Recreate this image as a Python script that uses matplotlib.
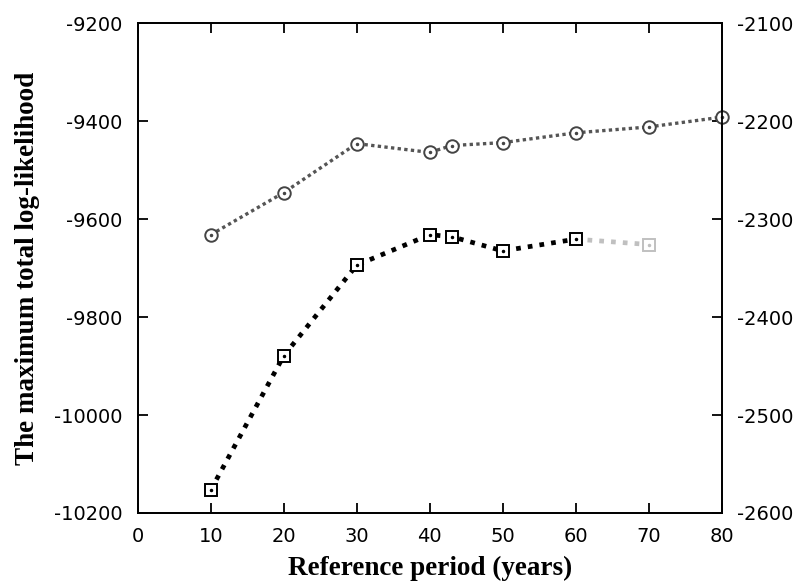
import matplotlib.pyplot as plt

plt.rcParams['axes.unicode_minus'] = False

years = [10, 20, 30, 40, 43, 50, 60, 70, 80]
loglik_right = [-2316, -2273, -2223, -2232, -2225, -2222, -2212, -2206, -2196]

years_sq = [10, 20, 30, 40, 43, 50, 60, 70]
loglik_left = [-10153, -9879, -9694, -9632, -9636, -9665, -9641, -9652]

xticks = [0, 10, 20, 30, 40, 50, 60, 70, 80]
left_ticks = [-10200, -10000, -9800, -9600, -9400, -9200]
right_ticks = [-2600, -2500, -2400, -2300, -2200, -2100]

fig = plt.figure(figsize=(8.01, 5.86), dpi=100)
ax = fig.add_axes([0.172, 0.1246, 0.729, 0.836])
ax2 = ax.twinx()

# squares on the left axis: black up to 60, light grey 60-70
ax.plot(years_sq[:7], loglik_left[:7], color='black', lw=3.4,
        dashes=(1.0, 1.5), dash_capstyle='butt', zorder=2)
ax.plot(years_sq[6:], loglik_left[6:], color='#c0c0c0', lw=3.4,
        dashes=(1.0, 1.5), dash_capstyle='butt', zorder=1)
ax.plot(years_sq[:7], loglik_left[:7], ls='none', marker='s', ms=8.5,
        mfc='white', mec='black', mew=1.4, zorder=3)
ax.plot(years_sq[7:], loglik_left[7:], ls='none', marker='s', ms=8.5,
        mfc='white', mec='#c0c0c0', mew=1.4, zorder=3)
ax.plot(years_sq[:7], loglik_left[:7], ls='none', marker='o', ms=1.5,
        color='black', zorder=4)
ax.plot(years_sq[7:], loglik_left[7:], ls='none', marker='o', ms=1.5,
        color='#c0c0c0', zorder=4)

# circles on the right axis
ax2.plot(years, loglik_right, color='#555555', lw=2.4, dashes=(1.0, 1.0),
         dash_capstyle='butt', marker='o', ms=9, mfc='white', mec='#444444',
         mew=1.4, clip_on=False)
ax2.plot(years, loglik_right, ls='none', marker='o', ms=1.5,
         color='#444444', clip_on=False)

ax.set_xlim(0, 80)
ax.set_ylim(-10200, -9200)
ax2.set_ylim(-2600, -2100)
ax.set_xticks(xticks)
ax.set_yticks(left_ticks)
ax2.set_yticks(right_ticks)

for a in (ax, ax2):
    for s in a.spines.values():
        s.set_linewidth(1.3)

ax.tick_params(axis='x', direction='in', top=True, length=7, width=1.3,
               labelsize=14, pad=10)
ax.tick_params(axis='y', direction='in', length=7, width=1.3,
               labelsize=14, pad=11)
ax2.tick_params(axis='y', direction='in', length=7, width=1.3,
                labelsize=14, pad=11)

ax.set_xlabel("Reference period (years)", family='Liberation Serif',
              fontsize=19.5, fontweight='bold', labelpad=7)
ax.set_ylabel("The maximum total log-likelihood", family='Liberation Serif',
              fontsize=19.5, fontweight='bold', labelpad=10)

fig.savefig("out.png", dpi=100)
